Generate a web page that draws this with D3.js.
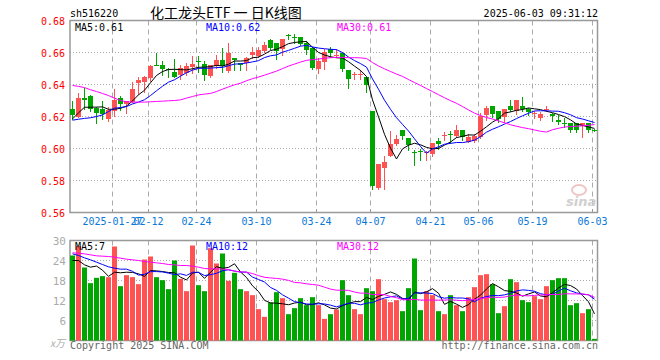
<!DOCTYPE html>
<html lang="zh">
<head>
<meta charset="UTF-8">
<title>化工龙头ETF 日K线图</title>
<script src="https://d3js.org/d3.v7.min.js"></script>
<style>
    body { margin: 0; background: #fff; }
    svg { display: block; }
    text { font-family: "DejaVu Sans Mono", monospace; font-size: 10px; }
</style>
</head>
<body>
<div id="chart"></div>
<script>
// trading days 2025-01-16 .. 2025-06-03
const dates = [
    "01-16","01-17","01-20","01-21","01-22","01-23","01-24","01-27",
    "02-05","02-06","02-07","02-10","02-11","02-12","02-13","02-14","02-17","02-18","02-19","02-20","02-21","02-24","02-25","02-26","02-27","02-28",
    "03-03","03-04","03-05","03-06","03-07","03-10","03-11","03-12","03-13","03-14","03-17","03-18","03-19","03-20","03-21","03-24","03-25","03-26","03-27","03-28","03-31",
    "04-01","04-02","04-03","04-07","04-08","04-09","04-10","04-11","04-14","04-15","04-16","04-17","04-18","04-21","04-22","04-23","04-24","04-25","04-28","04-29","04-30",
    "05-06","05-07","05-08","05-09","05-12","05-13","05-14","05-15","05-16","05-19","05-20","05-21","05-22","05-23","05-26","05-27","05-28","05-29","05-30",
    "06-03"
];

const openP = [
    0.6244,0.6196,0.6315,0.6330,0.6252,0.6244,0.6181,0.6238,0.6315,0.6277,
    0.6294,0.6415,0.6415,0.6440,0.6523,0.6523,0.6500,0.6481,0.6456,0.6471,
    0.6515,0.6544,0.6527,0.6450,0.6512,0.6552,0.6481,0.6565,0.6533,0.6533,
    0.6581,0.6577,0.6610,0.6679,0.6658,0.6623,0.6710,0.6694,0.6694,0.6658,
    0.6627,0.6496,0.6541,0.6625,0.6581,0.6594,0.6489,0.6460,0.6460,0.6448,
    0.6233,0.5750,0.5879,0.5958,0.6027,0.6115,0.6063,0.5981,0.5985,0.5975,
    0.5965,0.6046,0.6080,0.6088,0.6077,0.6115,0.6042,0.6046,0.6073,0.6213,
    0.6267,0.6233,0.6198,0.6267,0.6233,0.6267,0.6250,0.6220,0.6188,0.6248,
    0.6213,0.6181,0.6162,0.6160,0.6160,0.6142,0.6160,0.6117
];
const highP = [
    0.6294,0.6350,0.6380,0.6333,0.6258,0.6298,0.6258,0.6373,0.6331,0.6300,
    0.6415,0.6446,0.6452,0.6525,0.6600,0.6550,0.6504,0.6560,0.6523,0.6535,
    0.6577,0.6580,0.6548,0.6519,0.6585,0.6627,0.6658,0.6565,0.6533,0.6575,
    0.6637,0.6637,0.6665,0.6685,0.6658,0.6683,0.6715,0.6715,0.6694,0.6669,
    0.6637,0.6565,0.6621,0.6635,0.6621,0.6604,0.6489,0.6479,0.6490,0.6448,
    0.6233,0.5902,0.5954,0.6110,0.6083,0.6115,0.6063,0.5990,0.6000,0.5983,
    0.6035,0.6067,0.6104,0.6108,0.6146,0.6115,0.6092,0.6092,0.6219,0.6267,
    0.6267,0.6233,0.6250,0.6302,0.6302,0.6319,0.6254,0.6235,0.6229,0.6267,
    0.6219,0.6208,0.6188,0.6160,0.6160,0.6160,0.6160,0.6119
];
const lowP = [
    0.6185,0.6194,0.6244,0.6235,0.6160,0.6185,0.6175,0.6206,0.6238,0.6221,
    0.6290,0.6342,0.6352,0.6425,0.6519,0.6460,0.6446,0.6446,0.6435,0.6460,
    0.6473,0.6480,0.6429,0.6446,0.6502,0.6481,0.6481,0.6492,0.6492,0.6492,
    0.6565,0.6569,0.6606,0.6623,0.6560,0.6585,0.6685,0.6658,0.6644,0.6590,
    0.6498,0.6473,0.6500,0.6571,0.6571,0.6485,0.6381,0.6437,0.6437,0.6354,
    0.5746,0.5746,0.5744,0.5954,0.6021,0.6058,0.5990,0.5900,0.5927,0.5927,
    0.5954,0.5994,0.6056,0.6035,0.6073,0.6056,0.6040,0.6042,0.6063,0.6181,
    0.6198,0.6167,0.6167,0.6233,0.6213,0.6233,0.6208,0.6188,0.6177,0.6233,
    0.6171,0.6156,0.6135,0.6104,0.6104,0.6073,0.6104,0.6110
];
const closeP = [
    0.6206,0.6315,0.6300,0.6250,0.6223,0.6213,0.6238,0.6304,0.6277,0.6294,
    0.6373,0.6431,0.6444,0.6513,0.6521,0.6496,0.6494,0.6452,0.6502,0.6513,
    0.6531,0.6540,0.6456,0.6519,0.6552,0.6512,0.6596,0.6554,0.6519,0.6565,
    0.6602,0.6615,0.6648,0.6631,0.6606,0.6683,0.6708,0.6685,0.6652,0.6617,
    0.6502,0.6546,0.6604,0.6598,0.6585,0.6496,0.6431,0.6464,0.6464,0.6396,
    0.5765,0.5902,0.5917,0.6031,0.6058,0.6079,0.6017,0.5979,0.5983,0.5977,
    0.6035,0.6027,0.6083,0.6081,0.6115,0.6073,0.6073,0.6077,0.6202,0.6254,
    0.6219,0.6181,0.6250,0.6240,0.6302,0.6246,0.6229,0.6223,0.6215,0.6250,
    0.6202,0.6171,0.6158,0.6115,0.6119,0.6160,0.6119,0.6115
];
// volume, 万手
const volume = [
    25.5,28.3,21.9,17.2,18.8,19.3,19.0,28.2,16.3,19.6,
    19.0,16.9,24.3,25.2,19.0,18.1,15.4,24.0,18.5,14.8,
    28.5,16.6,14.8,27.7,23.1,26.1,17.9,20.3,15.4,14.8,
    13.6,9.4,7.1,11.4,14.5,12.7,7.9,9.7,12.7,10.6,
    13.0,10.6,6.5,7.9,9.3,18.1,13.6,9.4,7.9,15.7,
    14.8,18.4,12.4,11.5,12.1,8.8,15.7,24.6,9.1,14.8,
    13.6,8.8,7.9,13.6,10.6,8.8,13.0,16.0,19.6,19.9,
    16.9,8.2,10.3,18.4,17.5,12.1,11.5,13.3,12.4,16.3,
    18.1,18.7,18.7,10.6,11.2,8.2,9.4,0.5
];

// moving-average values before a full window exists
const ma5Head = [0.6185, 0.6223, 0.6258, 0.6258];
const ma10Head = [0.6177, 0.6183, 0.6188, 0.6192, 0.6200, 0.6210, 0.6231, 0.6252, 0.6256];
const ma30Head = [
    0.6394,0.6388,0.6381,0.6367,0.6356,0.6344,0.6331,0.6315,0.6300,0.6292,
    0.6290,0.6290,0.6290,0.6292,0.6294,0.6296,0.6298,0.6300,0.6304,0.6315,
    0.6325,0.6335,0.6340,0.6344,0.6356,0.6371,0.6385,0.6398,0.6408
];
const volMa5Head = [24.0, 24.0, 22.7, 22.0];
const volMa10Head = [26.0, 25.5, 24.8, 24.2, 23.5, 22.8, 22.1, 21.7, 21.4];
const volMa30Head = [
    26.3,26.2,26.0,25.7,25.4,25.3,25.2,25.0,24.7,24.4,
    24.2,24.0,23.7,23.5,23.3,23.1,22.8,22.7,22.5,22.5,
    22.3,22.0,21.6,21.5,21.5,21.4,21.3,20.8,20.6
];

const priceTicks = [0.56, 0.58, 0.60, 0.62, 0.64, 0.66, 0.68];
const volTicks = [6, 12, 18, 24, 30];
const dateTicks = ["01-27","02-12","02-24","03-10","03-24","04-07","04-21","05-06","05-19","06-03"];
const dateTickLabels = ["2025-01-27","02-12","02-24","03-10","03-24","04-07","04-21","05-06","05-19","06-03"];

const RED = "#ff5252", GREEN = "#00a600", GRID = "#aaa";
const width = 660, height = 360;
const left = 70, right = 597;

const svg = d3.select("#chart").append("svg")
    .attr("width", width).attr("height", height);

const x = d3.scaleBand().domain(dates).range([left, left + dates.length * 6])
    .paddingInner(1 / 6).paddingOuter(1 / 12).align(0);
const cx = d => Math.round(x(d)) + 2.5;

const y = d3.scaleLinear().domain([0.56, 0.68]).range([212.5, 20.5]);
const yv = d3.scaleLinear().domain([0, 30]).range([340.5, 240.5]);

function movingAvg(values, n, head) {
    return values.map((v, i) => i < n - 1 ? head[i] : d3.mean(values.slice(i - n + 1, i + 1)));
}

// header
svg.append("text").attr("x", 70).attr("y", 17).attr("fill", "#000").text("sh516220");
svg.append("text").attr("x", 150).attr("y", 18)
    .style("font-family", "'Noto Sans CJK SC', sans-serif").style("font-size", "14px")
    .text("化工龙头ETF 一 日K线图");
svg.append("text").attr("x", 598).attr("y", 17).attr("text-anchor", "end").text("2025-06-03 09:31:12");

// gridlines
const grid = svg.append("g");
grid.selectAll(".hp").data(priceTicks.slice(1, -1)).enter().append("line")
    .attr("x1", left).attr("x2", right).attr("y1", d => y(d)).attr("y2", d => y(d))
    .attr("stroke", GRID).attr("stroke-dasharray", "1,2");
grid.selectAll(".hv").data(volTicks.slice(0, -1)).enter().append("line")
    .attr("x1", left).attr("x2", right).attr("y1", d => yv(d)).attr("y2", d => yv(d))
    .attr("stroke", GRID).attr("stroke-dasharray", "1,2");
[[20.5, 212.5], [240.5, 340.5]].forEach(([t, b]) => {
    grid.selectAll(null).data(dateTicks).enter().append("line")
        .attr("x1", d => Math.round(x(d)) + 0.5).attr("x2", d => Math.round(x(d)) + 0.5)
        .attr("y1", t).attr("y2", b)
        .attr("stroke", GRID).attr("stroke-dasharray", "5,4");
});

// sina watermark
svg.append("ellipse").attr("cx", 579).attr("cy", 190).attr("rx", 7).attr("ry", 5)
    .attr("fill", "none").attr("stroke", "#f0c4c4").attr("stroke-width", 2);
svg.append("text").attr("x", 566).attr("y", 206)
    .style("font-family", "'DejaVu Sans', sans-serif").style("font-size", "13px")
    .style("font-style", "italic").style("font-weight", "bold")
    .attr("fill", "#d0d0d0").text("sina");

// panel frames
[[20.5, 212.5], [240.5, 340.5]].forEach(([t, b]) => {
    svg.append("rect").attr("x", 70).attr("y", t).attr("width", right - 70 + 0.5).attr("height", b - t)
        .attr("fill", "none").attr("stroke", "#999").attr("stroke-width", 1.5);
});

// price axis labels
svg.selectAll(".pl").data(priceTicks).enter().append("text")
    .attr("x", 65).attr("y", d => y(d) + 4).attr("text-anchor", "end")
    .attr("fill", "#f00").text(d => d3.format(".2f")(d));

// volume axis labels
svg.selectAll(".vl").data(volTicks).enter().append("text")
    .attr("x", 66).attr("y", d => yv(d) + 4).attr("text-anchor", "end")
    .attr("fill", "#aaa").style("font-size", "11px").text(d => d);
svg.append("text").attr("x", 50).attr("y", 347).attr("fill", "#aaa")
    .style("font-family", "'Noto Sans CJK SC', sans-serif").style("font-style", "italic")
    .text("x万");

// date labels
svg.selectAll(".dl").data(dateTicks).enter().append("text")
    .attr("x", d => Math.round(x(d)) + 0.5).attr("y", 225).attr("text-anchor", "middle")
    .attr("fill", "#0a78d8")
    .text((d, i) => dateTickLabels[i]);
svg.selectAll(".dt").data(dateTicks).enter().append("line")
    .attr("x1", d => Math.round(x(d)) + 0.5).attr("x2", d => Math.round(x(d)) + 0.5)
    .attr("y1", 209).attr("y2", 212).attr("stroke", "#999");

// candles
const candles = svg.append("g").selectAll("g").data(dates).enter().append("g");
const isUp = i => closeP[i] >= openP[i];
candles.append("line")
    .attr("x1", d => cx(d)).attr("x2", d => cx(d))
    .attr("y1", (d, i) => Math.round(y(highP[i]))).attr("y2", (d, i) => Math.round(y(lowP[i])) + 1)
    .attr("stroke", (d, i) => isUp(i) ? RED : GREEN);
candles.append("rect")
    .attr("x", d => Math.round(x(d))).attr("width", x.bandwidth())
    .attr("y", (d, i) => Math.round(y(Math.max(openP[i], closeP[i]))))
    .attr("height", (d, i) => Math.max(1, Math.round(Math.abs(y(openP[i]) - y(closeP[i])))))
    .attr("fill", (d, i) => isUp(i) ? RED : GREEN);

// volume bars
svg.append("g").selectAll("rect").data(dates).enter().append("rect")
    .attr("x", d => Math.round(x(d))).attr("width", x.bandwidth())
    .attr("y", (d, i) => yv(volume[i]))
    .attr("height", (d, i) => yv(0) - yv(volume[i]))
    .attr("fill", (d, i) => isUp(i) ? RED : GREEN);

// moving averages
const priceMA = [
    { values: movingAvg(closeP, 5, ma5Head), color: "#000" },
    { values: movingAvg(closeP, 10, ma10Head), color: "#00f" },
    { values: movingAvg(closeP, 30, ma30Head), color: "#f0f" }
];
const volMA = [
    { values: movingAvg(volume, 5, volMa5Head), color: "#000" },
    { values: movingAvg(volume, 10, volMa10Head), color: "#00f" },
    { values: movingAvg(volume, 30, volMa30Head), color: "#f0f" }
];
priceMA.forEach(m => {
    svg.append("path").datum(m.values).attr("fill", "none").attr("stroke", m.color)
        .attr("d", d3.line().x((v, i) => cx(dates[i])).y(v => y(v)));
});
volMA.forEach(m => {
    svg.append("path").datum(m.values).attr("fill", "none").attr("stroke", m.color)
        .attr("d", d3.line().x((v, i) => cx(dates[i])).y(v => yv(v)));
});

// MA legends
const last = a => a[a.length - 1];
const maNames = ["MA5", "MA10", "MA30"];
const legendX = [75, 206, 337];
priceMA.forEach((m, k) => {
    svg.append("text").attr("x", legendX[k]).attr("y", 31).attr("fill", m.color)
        .text(`${maNames[k]}:${d3.format(".2f")(last(m.values))}`);
});
volMA.forEach((m, k) => {
    svg.append("text").attr("x", legendX[k]).attr("y", 250).attr("fill", m.color)
        .text(`${maNames[k]}:${Math.floor(last(m.values))}`);
});

// footer
svg.append("text").attr("x", 70).attr("y", 349).attr("fill", "#666").text("Copyright 2025 SINA.COM");
svg.append("text").attr("x", 598).attr("y", 349).attr("text-anchor", "end").attr("fill", "#666")
    .text("http://finance.sina.com.cn");
</script>
</body>
</html>
